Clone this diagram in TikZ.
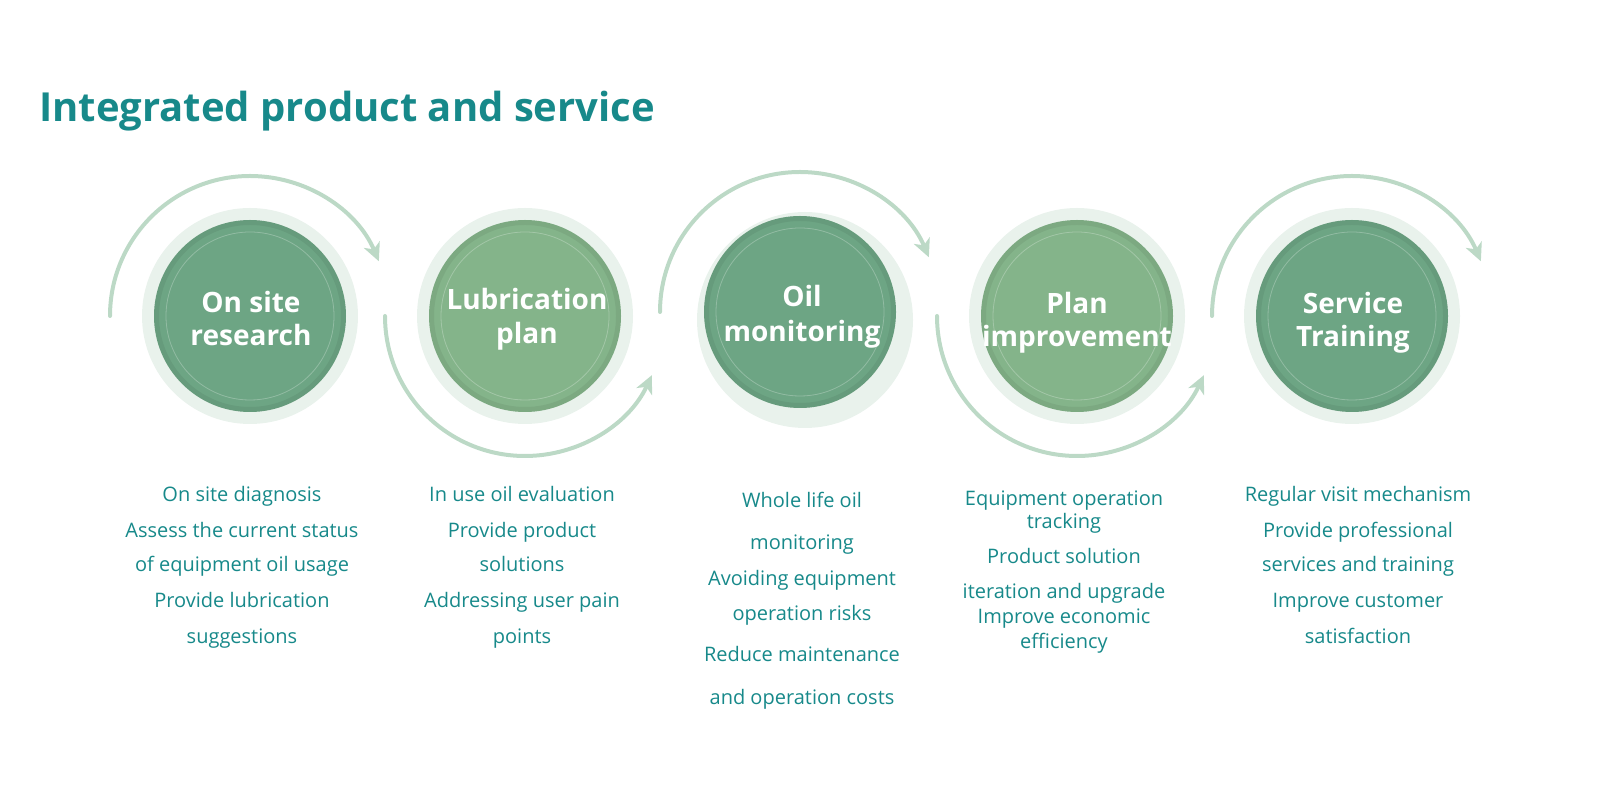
\documentclass[tikz,border=0pt]{standalone}
\usepackage{fontspec}
\setmainfont{Open Sans}
\usetikzlibrary{arrows.meta}
\definecolor{teal1}{HTML}{17898A}
\definecolor{gdark}{HTML}{6DA584}
\definecolor{glight}{HTML}{84B48A}
\definecolor{ringc}{HTML}{E9F2EC}
\definecolor{arcc}{HTML}{BCD9C6}
\tikzset{
 ringbg/.style={circle, fill=ringc, minimum size=216pt, inner sep=0pt},
 disc/.style={circle, minimum size=192pt, inner sep=0pt},
 lbl/.style={anchor=base, text=white, font=\fontsize{28}{33}\selectfont\bfseries, inner sep=0pt},
 body/.style={anchor=base, text=teal1, font=\fontsize{20}{24}\selectfont, inner sep=0pt},
 flow/.style={draw=arcc, line width=4pt, line cap=round, -{Stealth[length=18pt,width=17pt,inset=5pt]}},
 rim/.style={draw=black, draw opacity=0.06, line width=5pt},
 shine/.style={draw=white, draw opacity=0.25, line width=0.8pt},
}
\begin{document}
\begin{tikzpicture}[x=1pt,y=1pt]
\useasboundingbox (0,0) rectangle (1600,800);
\node[anchor=base west, text=teal1, font=\fontsize{40}{48}\selectfont\bfseries, inner sep=0pt] (title) at (39,678) {Integrated product and service};

% circles
\node[ringbg] (r1) at (250,484) {};
\node[ringbg] (r2) at (525,484) {};
\node[ringbg] (r3) at (805,480) {};
\node[ringbg] (r4) at (1077,484) {};
\node[ringbg] (r5) at (1352,484) {};
\node[disc, fill=gdark] (c1) at (250,484) {};
\node[disc, fill=glight] (c2) at (525,484) {};
\node[disc, fill=gdark] (c3) at (800,488) {};
\node[disc, fill=glight] (c4) at (1077,484) {};
\node[disc, fill=gdark] (c5) at (1352,484) {};
\foreach \c in {c1,c2,c3,c4,c5}{
  \draw[rim] (\c.center) circle[radius=93.5];
  \draw[shine] (\c.center) circle[radius=84];
}

% arcs
\draw[flow] ([shift={(180:140)}]c1.center) arc[start angle=180, end angle=23, radius=140];
\draw[flow] ([shift={(180:140)}]c2.center) arc[start angle=180, end angle=335, radius=140];
\draw[flow] ([shift={(180:140)}]c3.center) arc[start angle=180, end angle=23, radius=140];
\draw[flow] ([shift={(180:140)}]c4.center) arc[start angle=180, end angle=335, radius=140];
\draw[flow] ([shift={(180:140)}]c5.center) arc[start angle=180, end angle=23, radius=140];

% circle labels
\node[lbl] (l1a) at (251,487) {On site};
\node[lbl] (l1b) at (251,454) {research};
\node[lbl] (l2a) at (527,490) {Lubrication};
\node[lbl] (l2b) at (527,456) {plan};
\node[lbl] (l3a) at (802,493) {Oil};
\node[lbl] (l3b) at (802,458) {monitoring};
\node[lbl] (l4a) at (1077,486) {Plan};
\node[lbl] (l4b) at (1077,453) {improvement};
\node[lbl] (l5a) at (1353,486) {Service};
\node[lbl] (l5b) at (1353,453) {Training};

% body text
\foreach \t/\yy [count=\i] in {On site diagnosis/502, Assess the current status/538, of equipment oil usage/572, Provide lubrication/608, suggestions/644}
  \node[body] (ta\i) at (242,800-\yy) {\t};
\foreach \t/\yy [count=\i] in {In use oil evaluation/502, Provide product/538, solutions/572, Addressing user pain/608, points/644}
  \node[body] (tb\i) at (522,800-\yy) {\t};
\foreach \t/\yy [count=\i] in {Whole life oil/508, monitoring/550, Avoiding equipment/586, operation risks/621, Reduce maintenance/662, and operation costs/705}
  \node[body] (tc\i) at (802,800-\yy) {\t};
\foreach \t/\yy [count=\i] in {Equipment operation/506, tracking/529, Product solution/564, iteration and upgrade/599, Improve economic/624, efficiency/649}
  \node[body] (td\i) at (1064,800-\yy) {\t};
\foreach \t/\yy [count=\i] in {Regular visit mechanism/502, Provide professional/538, services and training/572, Improve customer/608, satisfaction/644}
  \node[body] (te\i) at (1358,800-\yy) {\t};
\end{tikzpicture}
\end{document}
